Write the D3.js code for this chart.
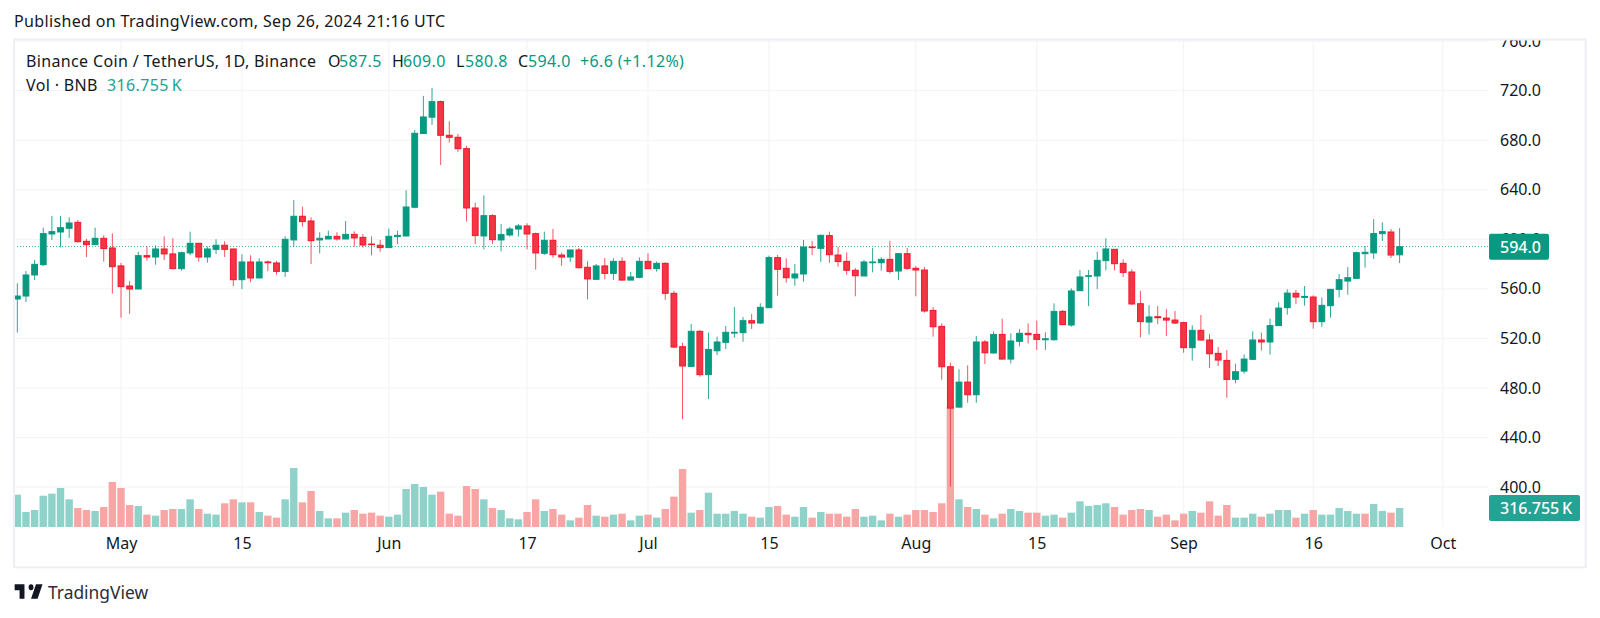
<!DOCTYPE html>
<html>
<head>
<meta charset="utf-8">
<script src="https://cdn.jsdelivr.net/npm/d3@7"></script>
<style>
  html, body { margin: 0; padding: 0; background: #fff; }
  svg { display: block; }
  text { font-family: 'Noto Sans', sans-serif; fill: #131722; }
  .label { font-size: 16px; letter-spacing: 0.35px; }
</style>
</head>
<body>
<div id="container"></div>
<script>
const w = 1600,
  h = 618,
  plotLeft = 14,
  plotRight = 1488,
  plotTop = 40,
  volumeBase = 527,
  frameBottom = 567.3,
  frameRight = 1585.7;

const green = '#089981',
  red = '#f23645',
  volumeGreen = '#8fd2c9',
  volumeRed = '#f8a6a5';

// daily candles, 2024-04-19 to 2024-09-26
const firstDay = new Date(Date.UTC(2024, 3, 19));

const opens = [
  551.8, 554.2, 571.2, 579.5, 604.3, 605.9, 608.9, 613.7, 598.4, 595.7, 600.8, 593, 578.5, 562.3, 559.9, 586.8,
  585.7, 592.2, 588.2, 576.3, 589, 596.8, 585.7, 591.9, 595.2, 592.2, 567.4, 581.7, 568.8, 581.7, 580.9, 574.1,
  599.5, 618.6, 614.8, 599.5, 600.3, 602.4, 600.3, 604, 601.6, 596.2, 595.2, 593.3, 602.2, 602.7, 625.9, 685.4,
  698.6, 711.2, 684, 682.4, 673.2, 625.3, 602.7, 619.1, 599.5, 603.5, 608.3, 610.8, 604.6, 588.7, 599.2, 587.3,
  585.7, 591.4, 577.4, 567.7, 578.5, 572.5, 582.2, 567.1, 569.3, 582.2, 576.3, 580.6, 556.4, 513.3, 497.4, 525.7,
  490.7, 510, 516.8, 524.3, 524.6, 534.3, 532.4, 544.8, 585.2, 576.6, 568.8, 572, 593.8, 592.7, 603, 587.3,
  582.2, 575, 570.4, 581.1, 581.1, 583.8, 574.4, 588.4, 576.6, 575.2, 542.6, 529.7, 497.1, 464.5, 484.7, 474.5,
  517.1, 508.2, 523.2, 503.3, 517.6, 524.1, 523.2, 518.9, 518.9, 541.8, 530.8, 558.5, 570.1, 570.4, 582.8, 591.9,
  580.6, 573.6, 548, 533.2, 537.5, 536.4, 534.8, 532.7, 512.5, 526.5, 518.7, 507.9, 502.2, 486.9, 493.6, 503.1,
  518.7, 517.1, 530.3, 544.8, 556.4, 553.1, 553.4, 533.5, 546.4, 559.6, 566.3, 568.5, 588.4, 589, 604.6, 605.9,
  587.5,
];

const highs = [
  564.5, 574.4, 583.3, 609.4, 618.9, 618.9, 617.8, 615.6, 600.3, 609.4, 603.2, 604.8, 580.9, 566.3, 590, 594.3,
  595.2, 602.4, 600.8, 590, 606.2, 596.8, 594.1, 600, 598.4, 592.2, 587.9, 587.1, 584.7, 582.8, 582.5, 602.4,
  631.8, 626.4, 617.8, 605.7, 607, 605.7, 614.8, 606.5, 604.3, 602.4, 599.5, 608.6, 607, 639.6, 688.3, 715.8,
  722.3, 712, 695.3, 685.1, 675.4, 629.6, 635.5, 620.2, 612.4, 610, 612.4, 612.9, 605.4, 606.2, 608.3, 589.2,
  591.4, 593, 582.2, 580.1, 584.9, 584.7, 585.5, 573.6, 585.5, 588.7, 582.2, 581.4, 558.3, 516.5, 531.6, 526.7,
  524.6, 521.4, 530, 545.3, 537.3, 539.7, 548.3, 586.8, 587.3, 584.7, 580.1, 599.5, 598.7, 604, 606.2, 593.8,
  589.5, 576.8, 583.3, 593, 585.5, 598.7, 588.7, 593, 578.5, 577.6, 545.3, 532.1, 500.4, 495, 498.2, 521.9,
  518.7, 525.7, 535.9, 524.1, 527.6, 532.1, 534.3, 524.9, 548.3, 542.9, 560.4, 575.2, 575.2, 590, 600.8, 591.9,
  583.8, 575.8, 558.3, 546.7, 546.1, 543.7, 542.1, 533.5, 530.5, 538.9, 523.5, 513, 510.6, 499.6, 507.1, 525.7,
  524.6, 535.9, 549.1, 559.6, 559.1, 562.3, 554.8, 552.9, 559.9, 572, 577.6, 590, 594.6, 616.4, 613.7, 608.3,
  609,
];

const lows = [
  524.6, 549.4, 567.1, 578.5, 599.5, 593.5, 601.1, 597.3, 585.7, 595.4, 582, 556.1, 536.7, 539.9, 559.6, 582.8,
  579.5, 583.3, 576.3, 574.7, 587.1, 582, 581.1, 588.2, 585.7, 562.3, 559.9, 565.5, 568.5, 574.4, 571.5, 569.6,
  594.1, 610.2, 580.1, 588.7, 600, 598.9, 600, 594.1, 593.3, 587.1, 590, 593, 596.2, 602.2, 625, 685.1,
  692.4, 660, 678.1, 670.6, 614.3, 596.2, 591.9, 596.2, 590.3, 602.2, 602.2, 591.9, 575.5, 587.3, 585.2, 578.7,
  581.7, 576.3, 551.5, 567.1, 567.7, 567.1, 566.6, 567.1, 568.5, 576, 573.9, 551, 512.2, 454.8, 497.1, 489,
  471, 506.6, 511.4, 520.6, 517.3, 527.6, 531.6, 544.5, 554.5, 565, 562.6, 565.8, 587.3, 581.7, 581.1, 577.9,
  571.2, 554, 570.4, 573.3, 574.7, 572.5, 567.1, 575.2, 554, 540.8, 521.4, 486.6, 400.2, 464.3, 468, 468,
  499.3, 507.6, 503.1, 499.8, 513.6, 516, 510.6, 510.6, 518.1, 530.8, 529.4, 558.3, 546.1, 559.9, 575, 575,
  569.6, 547, 520.8, 523, 531.6, 521.9, 531.6, 508.4, 502, 518.1, 496, 497.7, 472.1, 483.7, 491.5, 502.5,
  510.1, 506.8, 530, 539.1, 547.8, 546.4, 527.8, 529.4, 536.7, 553.1, 555.3, 568, 577.1, 584.1, 598.7, 584.9,
  580.8,
];

const closes = [
  554.2, 571.2, 579.8, 604.6, 606.2, 609.4, 613.2, 598.1, 595.7, 600.8, 592.5, 577.9, 561.8, 559.9, 586.8, 585.7,
  592.2, 588.2, 576.3, 589.2, 596.8, 585.7, 592.2, 595.2, 591.9, 567.4, 581.7, 568.8, 581.7, 581.1, 574.1, 600,
  618.6, 614.3, 598.9, 600.8, 602.4, 600.3, 604, 601.1, 595.4, 595.7, 593.3, 602.4, 603.2, 626.1, 685.6, 698.8,
  711.2, 684, 682.4, 673.2, 625.3, 603, 619.1, 599.7, 603.8, 608.3, 610.8, 604.3, 589, 599.2, 587.6, 585.7,
  591.4, 577.1, 568, 578.5, 572.5, 582.2, 567.1, 569.6, 582.2, 576.3, 580.6, 556.4, 513, 497.7, 525.7, 490.7,
  511.1, 517.1, 524.9, 524.9, 534.3, 532.4, 545.1, 585.2, 575.8, 569, 572, 593.8, 593.3, 603.2, 587.6, 582,
  575, 570.6, 581.7, 581.7, 583.8, 574.1, 588.4, 576.6, 575.2, 542.1, 529.4, 497.1, 463.7, 484.7, 474.5, 517.1,
  508.4, 523.2, 503.3, 517.9, 524.1, 523, 519.2, 519.7, 541.8, 531.1, 558.3, 569.6, 570.6, 583, 592.2, 580.3,
  573.3, 547.8, 533.5, 537.3, 536.7, 534.8, 532.4, 512.5, 526.5, 518.7, 507.6, 502.5, 486.9, 493.1, 503.3, 518.7,
  517.1, 530.3, 544.5, 556.6, 553.4, 553.9, 533.5, 546.7, 559.6, 567.4, 569, 589.2, 589.5, 604.6, 606.2, 587.3,
  594,
];

// volume in thousands of BNB
const volumes = [
  539, 250, 283, 522, 556, 650, 461, 317, 283, 267, 333, 750, 650, 367, 350, 206,
  189, 283, 300, 300, 461, 300, 222, 206, 395, 461, 411, 411, 250, 189, 156, 461,
  984, 411, 600, 267, 144, 144, 239, 283, 222, 239, 189, 172, 206, 633, 717, 667,
  539, 589, 222, 189, 684, 633, 461, 317, 283, 144, 128, 250, 461, 267, 300, 206,
  111, 156, 367, 189, 172, 206, 222, 111, 189, 206, 156, 300, 506, 967, 239, 283,
  572, 222, 222, 267, 222, 172, 156, 333, 350, 206, 172, 333, 156, 250, 222, 222,
  172, 300, 172, 189, 111, 222, 172, 206, 283, 283, 250, 395, 2017, 461, 333, 300,
  206, 144, 222, 300, 267, 239, 239, 189, 206, 156, 239, 428, 350, 367, 395, 333,
  206, 283, 300, 283, 172, 206, 111, 222, 267, 239, 428, 189, 367, 156, 156, 222,
  172, 222, 283, 283, 156, 222, 283, 206, 206, 317, 267, 222, 222, 383, 267, 239,
  316.755,
];

// near-flat day whose volume bar is red although the candle reads green
const redVolumeDays = [156];

const priceTicks = [400, 440, 480, 520, 560, 600, 640, 680, 720, 760];

const timeTicks = [
  [2024, 4, 1], [2024, 4, 15], [2024, 5, 1], [2024, 5, 17], [2024, 6, 1], [2024, 6, 15],
  [2024, 7, 1], [2024, 7, 15], [2024, 8, 1], [2024, 8, 16], [2024, 9, 1],
].map((d) => new Date(Date.UTC(d[0], d[1], d[2])));

const timeLabels = ['May', '15', 'Jun', '17', 'Jul', '15', 'Aug', '15', 'Sep', '16', 'Oct'];

const lastPrice = 594;
const lastVolumeLabel = '316.755\u2009K';

const days = opens.map((d, i) => d3.utcDay.offset(firstDay, i));

const xScale = d3
  .scaleUtc()
  .domain([new Date(Date.UTC(2024, 4, 1)), new Date(Date.UTC(2024, 9, 1))])
  .range([121, 1442.8]);

const yScale = d3.scaleLinear().domain([400, 720]).range([487, 90.7]);

const volumeScale = d3.scaleLinear().domain([0, 1000]).range([volumeBase, volumeBase - 60]);

const svg = d3.select('#container').append('svg').attr('width', w).attr('height', h);

svg
  .append('text')
  .attr('class', 'label')
  .text('Published on TradingView.com, Sep 26, 2024 21:16 UTC')
  .attr('x', 14)
  .attr('y', 27);

// grid
svg
  .append('g')
  .selectAll('line')
  .data(priceTicks)
  .enter()
  .append('line')
  .attr('x1', plotLeft)
  .attr('x2', plotRight)
  .attr('y1', (d) => yScale(d))
  .attr('y2', (d) => yScale(d))
  .attr('stroke', '#f2f3f6');

svg
  .append('g')
  .selectAll('line')
  .data(timeTicks)
  .enter()
  .append('line')
  .attr('x1', (d) => xScale(d))
  .attr('x2', (d) => xScale(d))
  .attr('y1', plotTop)
  .attr('y2', volumeBase)
  .attr('stroke', '#f2f3f6');

// volume sits under the candles
svg
  .append('g')
  .selectAll('rect')
  .data(days)
  .enter()
  .append('rect')
  .attr('x', (d) => xScale(d) - 3.7)
  .attr('width', 7.4)
  .attr('y', (d, i) => volumeScale(volumes[i]))
  .attr('height', (d, i) => volumeBase - volumeScale(volumes[i]))
  .attr('fill', (d, i) =>
    closes[i] < opens[i] || redVolumeDays.includes(i) ? volumeRed : volumeGreen
  );

// last price line
const lastPriceY = Math.floor(yScale(lastPrice)) + 0.5;

svg
  .append('line')
  .attr('x1', plotLeft)
  .attr('x2', plotRight)
  .attr('y1', lastPriceY)
  .attr('y2', lastPriceY)
  .attr('stroke', green)
  .attr('stroke-width', 1)
  .attr('stroke-opacity', 0.75)
  .attr('stroke-dasharray', '1 2');

const candles = svg.append('g').selectAll('g').data(days).enter().append('g');
const candleColor = (i) => (closes[i] < opens[i] ? red : green);

candles
  .append('line')
  .attr('x1', (d) => xScale(d))
  .attr('x2', (d) => xScale(d))
  .attr('y1', (d, i) => yScale(highs[i]))
  .attr('y2', (d, i) => yScale(lows[i]))
  .attr('stroke', (d, i) => candleColor(i))
  .attr('stroke-opacity', 0.85)
  .attr('stroke-width', 1);

candles
  .append('rect')
  .attr('x', (d) => xScale(d) - 2.9)
  .attr('width', 5.8)
  .attr('y', (d, i) => yScale(Math.max(opens[i], closes[i])))
  .attr('height', (d, i) =>
    Math.max(0.6, Math.abs(yScale(opens[i]) - yScale(closes[i])))
  )
  .attr('fill', (d, i) => candleColor(i))
  .attr('stroke', (d, i) => (closes[i] < opens[i] ? '#f5152c' : green))
  .attr('stroke-width', 1);

// price axis, clipped at the top of the frame like the 760 label
svg
  .append('clipPath')
  .attr('id', 'price-clip')
  .append('rect')
  .attr('x', plotRight)
  .attr('y', plotTop)
  .attr('width', frameRight - plotRight)
  .attr('height', frameBottom - plotTop);

const priceAxis = d3
  .axisRight(yScale)
  .tickValues(priceTicks)
  .tickSize(0)
  .tickPadding(0)
  .tickFormat(d3.format('.1f'));

const priceAxisGroup = svg
  .append('g')
  .attr('clip-path', 'url(#price-clip)')
  .append('g')
  .attr('transform', 'translate(1500, 0)')
  .call(priceAxis);
priceAxisGroup.select('.domain').remove();
priceAxisGroup.selectAll('text').style('font-size', '16px');

// time axis
const timeAxis = d3
  .axisBottom(xScale)
  .tickValues(timeTicks)
  .tickSize(0)
  .tickPadding(0)
  .tickFormat((d, i) => timeLabels[i]);

const timeAxisGroup = svg
  .append('g')
  .attr('transform', 'translate(0, 538)')
  .call(timeAxis);
timeAxisGroup.select('.domain').remove();
timeAxisGroup.selectAll('text').style('font-size', '16px');

// frame
svg
  .append('rect')
  .attr('x', plotLeft)
  .attr('y', 39.5)
  .attr('width', frameRight - plotLeft)
  .attr('height', frameBottom - 39.5)
  .attr('fill', 'none')
  .attr('stroke', '#eeeff5')
  .attr('stroke-width', 2);

// price and volume tags
svg
  .append('rect')
  .attr('x', 1489)
  .attr('y', yScale(lastPrice) - 13)
  .attr('width', 60)
  .attr('height', 26)
  .attr('rx', 2)
  .attr('fill', green);

svg
  .append('text')
  .text(d3.format('.1f')(lastPrice))
  .attr('x', 1500)
  .attr('y', yScale(lastPrice) + 6)
  .style('font-size', '16px')
  .style('font-weight', 500)
  .style('fill', '#fff');

svg
  .append('rect')
  .attr('x', 1489)
  .attr('y', 495)
  .attr('width', 91)
  .attr('height', 26)
  .attr('rx', 2)
  .attr('fill', '#22a394');

svg
  .append('text')
  .text(lastVolumeLabel)
  .attr('x', 1500)
  .attr('y', 514)
  .style('font-size', '16px')
  .style('font-weight', 500)
  .style('fill', '#fff');

// legend
const legendPieces = [
  ['Binance Coin / TetherUS, 1D, Binance', 26, '#131722'],
  ['O', 328, '#131722'],
  ['587.5', 339, green],
  ['H', 392, '#131722'],
  ['609.0', 403, green],
  ['L', 456, '#131722'],
  ['580.8', 465, green],
  ['C', 518, '#131722'],
  ['594.0', 528, green],
  ['+6.6 (+1.12%)', 580, green],
];

svg
  .append('g')
  .selectAll('text')
  .data(legendPieces)
  .enter()
  .append('text')
  .attr('class', 'label')
  .text((d) => d[0])
  .attr('x', (d) => d[1])
  .attr('y', 67)
  .style('fill', (d) => d[2]);

svg
  .append('text')
  .attr('class', 'label')
  .text('Vol \u00b7 BNB')
  .attr('x', 26)
  .attr('y', 91);

svg
  .append('text')
  .attr('class', 'label')
  .text(lastVolumeLabel)
  .attr('x', 107)
  .attr('y', 91)
  .style('fill', '#22a394');

// footer logo
svg
  .append('path')
  .attr('d', 'M14 6H2v6h6v9h6V6zm16 15h-8l6-15h8l-6 15zm-8-9a3 3 0 1 0 0-6 3 3 0 0 0 0 6z')
  .attr('transform', 'translate(13, 578.5) scale(0.82, 0.97)')
  .attr('fill', '#131722');

svg
  .append('text')
  .text('TradingView')
  .attr('x', 48)
  .attr('y', 599.3)
  .style('font-size', '17.4px')
  .style('fill', '#2a2e39');
</script>
</body>
</html>
